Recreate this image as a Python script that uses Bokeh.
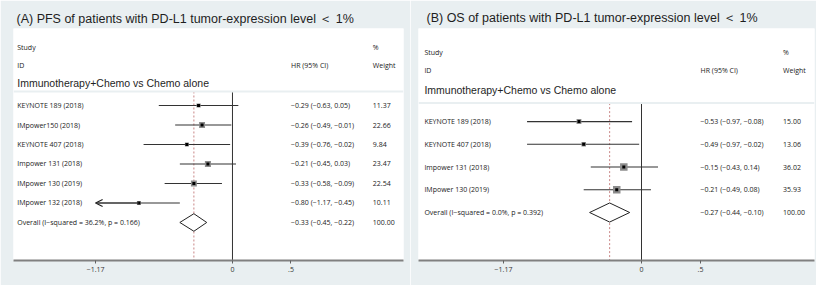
import math
from bokeh.plotting import figure
from bokeh.layouts import row
from bokeh.models import (Range1d, FixedTicker, CustomJSTickFormatter, Span,
                          Arrow, OpenHead, ColumnDataSource)
from bokeh.core.properties import value
from bokeh.embed import file_html
from bokeh.resources import INLINE

BG = "#e9eff1"
SMALL_FONT = "Open Sans"
BIG_FONT = "Liberation Sans"

# ---------------- data ----------------
subgroup = "Immunotherapy+Chemo vs Chemo alone"
tick_values = [-1.17, 0, 0.5]

a_title = "(A) PFS of patients with PD-L1 tumor-expression level \uff1c 1%"
a_studies = ["KEYNOTE 189 (2018)", "IMpower150 (2018)", "KEYNOTE 407 (2018)",
             "Impower 131 (2018)", "IMpower 130 (2019)", "IMpower 132 (2018)"]
a_est = [-0.29, -0.26, -0.39, -0.21, -0.33, -0.80]
a_lo = [-0.63, -0.49, -0.76, -0.45, -0.58, -1.17]
a_hi = [0.05, -0.01, -0.02, 0.03, -0.09, -0.45]
a_wt = [11.37, 22.66, 9.84, 23.47, 22.54, 10.11]
a_overall = [-0.33, -0.45, -0.22, 100.00]
a_overall_label = "Overall  (I\u2212squared = 36.2%, p = 0.166)"

b_title = "(B) OS of patients with PD-L1 tumor-expression level \uff1c 1%"
b_studies = ["KEYNOTE 189 (2018)", "KEYNOTE 407 (2018)",
             "Impower 131 (2018)", "IMpower 130 (2019)"]
b_est = [-0.53, -0.49, -0.15, -0.21]
b_lo = [-0.97, -0.97, -0.43, -0.49]
b_hi = [-0.08, -0.02, 0.14, 0.08]
b_wt = [15.00, 13.06, 36.02, 35.93]
b_overall = [-0.27, -0.44, -0.10, 100.00]
b_overall_label = "Overall  (I\u2212squared = 0.0%, p = 0.392)"


def f2(v):
    return f"{v:.2f}".replace("-", "\u2212")


def make_panel(title, studies, est, lo, hi, wt, overall, overall_label, g):
    p = figure(width=g["width"], height=285, output_backend="svg",
               toolbar_location=None, x_axis_location="below",
               y_axis_location=None,
               x_range=Range1d(*g["xr"]), y_range=Range1d(*g["yr"]),
               min_border_left=g["mbl"], min_border_right=g["mbr"],
               min_border_top=g["mbt"], min_border_bottom=g["mbb"])
    p.background_fill_color = "white"
    p.border_fill_color = BG
    p.outline_line_color = None
    p.grid.visible = False

    p.title.text = title
    p.title.text_font = BIG_FONT
    p.title.text_font_size = "12.5px"
    p.title.text_font_style = "normal"
    p.title.text_color = "#1e1e1e"
    p.title.offset = g["toff"]
    p.title.standoff = g["tstand"]

    ax = p.xaxis[0]
    ax.ticker = FixedTicker(ticks=tick_values)
    ax.formatter = CustomJSTickFormatter(code="""
        if (Math.abs(tick) < 1e-9) { return "0"; }
        let s = (Math.round(tick * 100) / 100).toString();
        s = s.replace(/^(-?)0\\./, "$1.");
        return s.replace("-", "\\u2212");
    """)
    ax.axis_line_color = "#808080"
    ax.axis_line_width = 2
    ax.major_tick_line_color = "#606060"
    ax.major_tick_in = 0
    ax.major_tick_out = 3
    ax.minor_tick_line_color = None
    ax.major_label_standoff = 3
    ax.major_label_text_font = SMALL_FONT
    ax.major_label_text_font_size = "7px"
    ax.major_label_text_color = "#333333"

    n = len(studies)
    ys = list(range(n))
    xmin = tick_values[0]
    bottom = g["yr"][0]
    sep = g["sep"]
    study_x, hr_x, wt_x = -1.84, 0.5, 1.2

    # separator between header box and plot box
    p.add_layout(Span(location=sep, dimension="width", line_color=BG, line_width=2))

    # zero line and overall line
    p.segment(x0=[0], y0=[sep], x1=[0], y1=[bottom], line_color="#333333", line_width=1)
    p.segment(x0=[overall[0]], y0=[sep], x1=[overall[0]], y1=[bottom],
              line_color="#c98585", line_width=1, line_dash="2 2")

    lo_c = [max(l, xmin) for l in lo]
    src = ColumnDataSource(dict(
        y=ys, est=est, lo=lo_c, hi=hi,
        box=[1.25 * math.sqrt(w) for w in wt],
        study=studies,
        hr=[f"{f2(e)} ({f2(l)}, {f2(h)})" for e, l, h in zip(est, lo, hi)],
        wt=[f"{w:.2f}" for w in wt],
    ))
    p.segment(x0="lo", y0="y", x1="hi", y1="y", source=src,
              line_color="#333333", line_width=1.2)
    for e, l, y in zip(est, lo, ys):
        if l <= xmin:
            p.add_layout(Arrow(end=OpenHead(size=7, line_width=1.2, line_color="#222222"),
                               x_start=e, y_start=y, x_end=xmin, y_end=y,
                               line_color="#333333", line_width=1.2))
    p.scatter(x="est", y="y", size="box", marker="square", source=src,
              fill_color="#8c8c8c", line_color=None)
    p.scatter(x="est", y="y", size=3, marker="square", source=src,
              fill_color="black", line_color=None)

    # overall diamond
    oe, ol, oh, ow = overall
    h = g["dh"]
    yo = n
    p.patch(x=[ol, oe, oh, oe, ol], y=[yo, yo - h, yo, yo + h, yo],
            fill_color="white", line_color="#222222", line_width=1)

    tk = dict(text_font=value(SMALL_FONT), text_font_size="7px",
              text_color="#222222", text_baseline="middle", text_align="left")
    p.text(x=study_x, y="y", text="study", source=src, **tk)
    p.text(x=hr_x, y="y", text="hr", source=src, **tk)
    p.text(x=wt_x, y="y", text="wt", source=src, **tk)
    p.text(x=[study_x], y=[yo], text=[overall_label], **tk)
    p.text(x=[hr_x], y=[yo], text=[f"{f2(oe)} ({f2(ol)}, {f2(oh)})"], **tk)
    p.text(x=[wt_x], y=[yo], text=[f"{ow:.2f}"], **tk)

    hy = g["hy"]
    p.text(x=[study_x, wt_x, study_x, hr_x, wt_x],
           y=[hy[0], hy[0], hy[1], hy[1], hy[1]],
           text=["Study", "%", "ID", "HR (95% CI)", "Weight"], **tk)
    p.text(x=[study_x], y=[hy[2]], text=[subgroup], text_font=value(BIG_FONT),
           text_font_size="10.5px", text_color="#1e1e1e",
           text_baseline="middle", text_align="left")
    return p


ga = dict(width=410, xr=(-1.872, 1.462), yr=(7.95, -3.95),
          mbl=13, mbr=7, mbt=25, mbb=22, toff=3, tstand=5,
          hy=[-2.95, -2.05, -1.15], sep=-0.72, dh=0.45)
gb = dict(width=406, xr=(-1.89, 1.466), yr=(6.11, -4.09),
          mbl=8, mbr=2, mbt=28, mbb=25, toff=8, tstand=8,
          hy=[-3.03, -2.24, -1.38], sep=-0.81, dh=0.42)

pa = make_panel(a_title, a_studies, a_est, a_lo, a_hi, a_wt, a_overall, a_overall_label, ga)
pb = make_panel(b_title, b_studies, b_est, b_lo, b_hi, b_wt, b_overall, b_overall_label, gb)

layout = row(pa, pb)
open("out.html", "w").write(file_html(layout, INLINE))
